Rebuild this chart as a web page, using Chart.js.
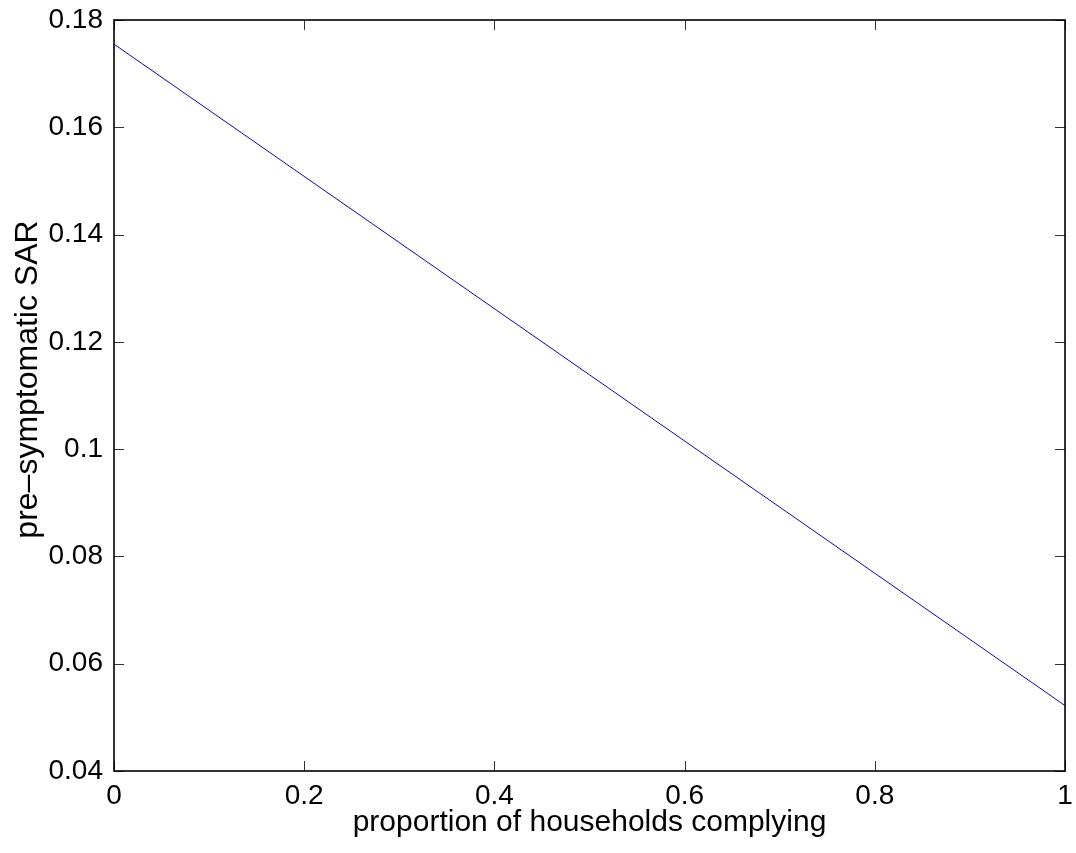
<!DOCTYPE html>
<html>
<head>
<meta charset="utf-8">
<script src="https://cdn.jsdelivr.net/npm/chart.js@4"></script>
<style>
  html, body { margin: 0; padding: 0; background: #fff; }
  #wrap { width: 1076px; height: 853px; }
</style>
</head>
<body>
<div id="wrap"><canvas id="chart" width="1076" height="853"></canvas></div>
<script>
// data
const compliance = [0, 1]
const sar = [0.1755, 0.0522]
const xTicks = [0, 0.2, 0.4, 0.6, 0.8, 1]
const yTicks = [0.04, 0.06, 0.08, 0.1, 0.12, 0.14, 0.16, 0.18]

const FONT = 'Liberation Sans, Arial, Helvetica, sans-serif'

// matlab style box with ticks pointing in, on all 4 sides
const boxTicks = {
  id: 'boxTicks',
  afterDraw(chart) {
    const ctx = chart.ctx
    const a = chart.chartArea
    const xs = chart.scales.x
    const ys = chart.scales.y
    const len = 10
    ctx.save()
    ctx.strokeStyle = '#333'
    ctx.lineWidth = 1
    ctx.beginPath()
    xTicks.forEach(v => {
      const px = Math.round(xs.getPixelForValue(v)) + 0.5
      ctx.moveTo(px, a.bottom); ctx.lineTo(px, a.bottom - len)
      ctx.moveTo(px, a.top); ctx.lineTo(px, a.top + len)
    })
    yTicks.forEach(v => {
      const py = Math.round(ys.getPixelForValue(v)) + 0.5
      ctx.moveTo(a.left, py); ctx.lineTo(a.left + len, py)
      ctx.moveTo(a.right, py); ctx.lineTo(a.right - len, py)
    })
    ctx.stroke()
    ctx.strokeStyle = '#000'
    ctx.lineWidth = 1.6
    ctx.strokeRect(a.left, a.top, a.right - a.left, a.bottom - a.top)
    ctx.restore()
  }
}

const fmt = v => String(parseFloat(Number(v).toFixed(2)))

// keep the plot box where it is in the picture (no label overflow padding)
function noPad(s) {
  s.paddingTop = 0; s.paddingBottom = 0; s.paddingLeft = 0; s.paddingRight = 0
}

new Chart(document.querySelector('#chart'), {
  type: 'line',
  data: {
    datasets: [{
      data: compliance.map((x, i) => ({ x: x, y: sar[i] })),
      borderColor: '#0000ff',
      borderWidth: 1,
      pointRadius: 0,
      fill: false,
      tension: 0
    }]
  },
  options: {
    responsive: false,
    animation: false,
    layout: { padding: { left: 0, top: 20, right: 11, bottom: 0 } },
    plugins: { legend: { display: false }, tooltip: { enabled: false } },
    scales: {
      x: {
        type: 'linear',
        min: 0, max: 1,
        afterBuildTicks: s => { s.ticks = xTicks.map(v => ({ value: v })) },
        afterFit: s => { s.height = 82; noPad(s) },
        grid: { display: false },
        border: { display: false },
        ticks: { color: '#000', padding: 0, maxRotation: 0, font: { family: FONT, size: 28 }, callback: fmt },
        title: {
          display: true,
          text: 'proportion of households complying',
          color: '#000',
          font: { family: FONT, size: 30 },
          padding: { top: 12, bottom: 12 }
        }
      },
      y: {
        min: 0.04, max: 0.18,
        afterBuildTicks: s => { s.ticks = yTicks.map(v => ({ value: v })) },
        afterFit: s => { s.width = 114; noPad(s) },
        grid: { display: false },
        border: { display: false },
        ticks: { color: '#000', padding: 3, font: { family: FONT, size: 28 }, callback: fmt },
        title: {
          display: true,
          // en spaces in front nudge the label up a little, like the original
          text: '\u2002\u2002pre–symptomatic SAR',
          color: '#000',
          font: { family: FONT, size: 32 },
          padding: { top: 9, bottom: 9 }
        }
      }
    }
  },
  plugins: [boxTicks]
})
</script>
</body>
</html>
